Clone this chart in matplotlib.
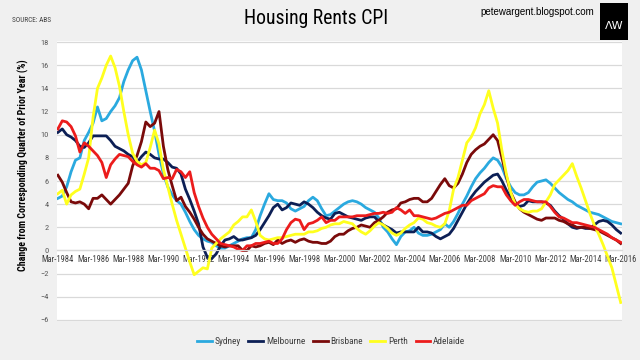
import numpy as np
import matplotlib
matplotlib.use('Agg')
from matplotlib import pyplot as plt
from matplotlib import font_manager
from matplotlib.patches import Rectangle

# Quarterly values, Mar-1984 .. Mar-2016 (129 quarters).
sydney = [4.5, 4.7, 5.5, 6.8, 7.8, 8.0, 9.5, 10.2, 11.0, 12.4, 11.2, 11.4, 12.0, 12.5, 13.2, 14.6,
          15.6, 16.4, 16.7, 15.6, 13.8, 12.0, 10.3, 8.3, 6.6, 5.5, 4.8,
          4.3, 4.0, 3.3, 2.5, 1.8, 1.3, 1.0, 0.8, 0.7, 0.4, 0.2, 0.2, 0.4, 0.6, 0.8, 1.0, 1.1,
          1.1, 1.8, 3.0, 4.0, 4.9, 4.4, 4.3, 4.3,
          4.1, 3.6, 3.4, 3.6, 3.8, 4.3, 4.6, 4.3, 3.6, 3.0, 3.1, 3.4, 3.7, 4.0, 4.2, 4.3,
          4.2, 4.0, 3.7, 3.5, 3.3, 2.8, 2.0, 1.6, 1.0,
          0.5, 1.2, 1.6, 1.7, 2.0, 1.5, 1.3, 1.3, 1.4, 1.6, 1.8, 2.3, 2.0, 2.5, 3.2, 4.0,
          4.7, 5.5, 6.2, 6.7, 7.1, 7.6, 8.0, 7.8,
          7.2, 6.2, 5.5, 5.0, 4.8, 4.8, 5.0, 5.5, 5.9, 6.0, 6.1, 5.8, 5.4, 5.0, 4.7, 4.4,
          4.2, 3.9, 3.7, 3.5, 3.3, 3.2, 3.1, 2.9, 2.7, 2.5, 2.4, 2.3]
melbourne = [10.2, 10.5, 10.0, 9.8, 9.5, 9.0, 8.9, 9.3, 9.9, 9.9, 9.9, 9.9, 9.5, 9.0, 8.8, 8.6,
             8.3, 8.1, 7.6, 8.1, 8.5, 8.3, 8.0, 7.9, 7.9, 7.6, 7.2, 7.1, 6.6,
             5.3, 4.4, 3.4, 2.3, 0.3, -0.6, -0.7, -0.3, 0.4, 0.9, 1.0, 1.2, 0.9, 0.9, 1.0, 1.1,
             1.3, 1.8, 2.4, 3.0, 3.7,
             4.0, 3.5, 3.7, 4.1, 4.0, 3.9, 4.2, 4.0, 3.7, 3.3, 3.0, 2.8, 2.7, 3.2, 3.3, 3.1,
             2.9, 2.8, 2.7, 2.6, 2.8, 2.9, 2.9, 2.5, 2.2,
             2.0, 1.8, 1.5, 1.6, 1.6, 1.6, 1.6, 2.0, 1.6, 1.6, 1.5, 1.2, 1.0, 1.2, 1.4, 1.9,
             2.6, 3.3, 4.0, 4.6, 5.1, 5.5, 5.9, 6.2, 6.5,
             6.6, 6.0, 5.2, 4.5, 4.0, 3.8, 3.9, 4.3, 4.2, 4.2, 4.2, 4.1, 3.9, 3.4, 3.0, 2.7,
             2.3, 2.0, 1.9, 2.0, 1.9, 1.9, 2.2, 2.5, 2.6, 2.5, 2.2, 1.8, 1.5]
brisbane = [6.5, 5.9, 5.0, 4.2, 4.1, 4.2, 4.0, 3.6, 4.5, 4.5, 4.8, 4.4, 4.0, 4.4, 4.8, 5.3,
            5.8, 7.3, 8.2, 9.4, 11.1, 10.7, 11.0, 12.0, 9.0, 7.0, 5.6,
            4.3, 4.6, 3.8, 3.3, 2.7, 2.0, 1.4, 1.0, 0.8, 0.6, 0.4, 0.3, 0.4, 0.4, 0.4, 0.0,
            0.0, 0.4, 0.3, 0.4, 0.6, 0.7, 0.5, 0.9,
            0.6, 0.8, 0.9, 0.7, 0.9, 1.0, 0.8, 0.7, 0.7, 0.6, 0.6, 0.8, 1.2, 1.4, 1.4, 1.7,
            1.9, 2.0, 2.2, 2.1, 2.0, 2.4, 2.6, 2.9, 3.3,
            3.5, 3.6, 4.1, 4.2, 4.4, 4.5, 4.5, 4.2, 4.2, 4.5, 5.1, 5.7, 6.2, 5.6, 5.4, 5.8,
            6.6, 7.6, 8.3, 8.7, 9.0, 9.2, 9.6, 10.0, 9.5,
            8.0, 6.4, 5.0, 4.2, 3.6, 3.3, 3.1, 2.9, 2.7, 2.6, 2.8, 2.8, 2.8, 2.6, 2.5, 2.3,
            2.2, 2.0, 2.0, 2.0, 1.9, 1.8, 1.7, 1.5, 1.3, 1.1, 0.9, 0.6]
perth = [4.9, 5.2, 4.0, 4.8, 5.1, 5.3, 6.6, 8.0, 11.5, 14.0, 14.9, 16.0, 16.8, 15.8, 14.2, 12.0,
         10.0, 8.4, 7.7, 7.4, 7.6, 8.9, 10.4, 9.2, 7.0,
         5.5, 4.0, 2.6, 1.4, 0.2, -1.0, -2.1, -1.8, -1.5, -1.6, 0.2, 0.6, 1.0, 1.3, 1.6, 2.2,
         2.5, 2.9, 2.9, 3.5, 2.5, 1.3, 1.0, 0.9, 1.0, 1.1,
         1.1, 1.2, 1.3, 1.4, 1.4, 1.4, 1.6, 1.6, 1.7, 1.9, 2.0, 2.2, 2.3, 2.3, 2.5, 2.4,
         2.3, 1.9, 1.6, 1.4, 1.7, 2.1, 2.4, 2.2, 1.9,
         1.5, 1.3, 1.5, 1.9, 2.2, 2.4, 2.8, 2.7, 2.4, 2.3, 2.1, 2.0, 2.3, 3.4, 5.3, 6.3,
         7.8, 9.3, 9.8, 10.6, 11.8, 12.6, 13.8, 12.3, 11.0,
         8.6, 6.6, 5.0, 4.0, 3.6, 3.4, 3.3, 3.4, 3.4, 3.6, 4.2, 4.8, 5.7, 6.1, 6.5, 6.9,
         7.5, 6.4, 5.4, 4.3, 3.2, 2.2, 1.4, 0.5, -0.5, -1.5, -3.0, -4.5]
adelaide = [10.5, 11.2, 11.1, 10.7, 9.9, 8.5, 9.3, 9.0, 8.6, 8.2, 7.6, 6.3, 7.4, 7.9, 8.3, 8.2,
            8.1, 7.7, 7.4, 7.2, 7.5, 7.1, 7.1, 6.9, 6.2, 6.3,
            6.2, 7.0, 6.8, 6.3, 6.8, 5.0, 3.8, 2.8, 2.0, 1.4, 1.0, 0.6, 0.5, 0.4, 0.3, 0.1,
            0.0, 0.4, 0.4, 0.6, 0.6, 0.7, 0.8, 0.6,
            0.6, 1.0, 1.8, 2.4, 2.7, 2.6, 1.8, 2.3, 2.4, 2.6, 2.9, 2.4, 2.6, 2.6, 2.9, 2.9,
            2.9, 2.9, 3.0, 3.0, 3.0, 3.1, 3.2, 3.2, 3.3,
            3.2, 3.3, 3.7, 3.5, 3.2, 3.5, 3.0, 3.0, 2.9, 2.8, 2.7, 2.8, 3.0, 3.2, 3.3, 3.5,
            3.7, 3.9, 3.9, 4.3, 4.5, 4.7, 4.9, 5.4, 5.6, 5.5,
            5.5, 4.8, 4.3, 3.9, 4.2, 4.4, 4.4, 4.3, 4.2, 4.2, 4.2, 3.8, 3.3, 2.9, 2.8, 2.6,
            2.4, 2.4, 2.3, 2.2, 2.1, 2.0, 1.8, 1.6, 1.4, 1.1, 0.9, 0.7]

series_names = ['Sydney', 'Melbourne', 'Brisbane', 'Perth', 'Adelaide']
series_colors = ['#2aa9df', '#0c1f55', '#7a0a0a', '#ffff1e', '#ec1c1c']
tick_labels = ['Mar-1984', 'Mar-1986', 'Mar-1988', 'Mar-1990', 'Mar-1992', 'Mar-1994',
               'Mar-1996', 'Mar-1998', 'Mar-2000', 'Mar-2002', 'Mar-2004', 'Mar-2006',
               'Mar-2008', 'Mar-2010', 'Mar-2012', 'Mar-2014', 'Mar-2016']

# Pick a narrow font if one is installed, like the Excel original.
fonts = font_manager.fontManager.ttflist
names = {f.name for f in fonts}
stretch = 'normal'
if 'Liberation Sans Narrow' in names:
    narrow, shrink = 'Liberation Sans Narrow', 1.0
elif 'Roboto Condensed' in names:
    narrow, shrink = 'Roboto Condensed', 0.95
elif any(f.name == 'DejaVu Sans' and f.stretch == 'condensed' for f in fonts):
    narrow, shrink, stretch = 'DejaVu Sans', 0.9, 'condensed'
else:
    narrow, shrink = 'Liberation Sans', 0.85
fp = dict(family=narrow, stretch=stretch)

bg = '#f0f0f0'
fig = plt.figure(figsize=(6.4, 3.6), dpi=100, facecolor=bg)
ax = fig.add_axes([57 / 640, 39 / 360, 565 / 640, 280 / 360])
ax.set_facecolor('white')

quarters = np.arange(len(sydney))
for name, vals, col in zip(series_names, [sydney, melbourne, brisbane, perth, adelaide],
                           series_colors):
    ax.plot(quarters, vals, color=col, lw=2.0, label=name, solid_joinstyle='round')

ax.set_xlim(-0.2, 128.3)
ax.set_ylim(-6.1, 18.1)
ax.set_yticks(np.arange(-6, 19, 2))
ax.grid(axis='y', color='#d9d9d9', lw=0.9)
ax.set_axisbelow(True)
for s in ['left', 'right', 'top']:
    ax.spines[s].set_visible(False)
ax.spines['bottom'].set_position(('data', 0))
ax.spines['bottom'].set_color('#d9d9d9')
ax.spines['bottom'].set_linewidth(0.9)

ax.set_xticks(quarters[::8])
ax.set_xticklabels(tick_labels)
ax.tick_params(axis='x', length=0, pad=3, labelsize=6.5 * shrink, labelcolor='#404040')
ax.tick_params(axis='y', length=0, pad=6, labelsize=6.3 * shrink, labelcolor='#595959')
for lab in ax.get_xticklabels() + ax.get_yticklabels():
    lab.set_family(narrow)
    lab.set_stretch(stretch)

fig.text(23 / 640, 1 - 165 / 360, 'Change from Corresponding Quarter of Prior Year (%)',
         rotation=90, ha='center', va='center', fontsize=7.5 * shrink,
         fontweight='bold', **fp)

fig.text(316 / 640, 1 - 19 / 360, 'Housing Rents CPI', ha='center', va='center',
         fontsize=15 * shrink, **fp)
fig.text(12 / 640, 1 - 20 / 360, 'SOURCE: ABS', ha='left', va='center',
         fontsize=5.5 * shrink, color='#404040', **fp)
fig.text(594 / 640, 1 - 12 / 360, 'petewargent.blogspot.com', ha='right', va='center',
         fontsize=7, family='Liberation Sans')

# AW logo box
fig.add_artist(Rectangle((600 / 640, 1 - 40 / 360), 28 / 640, 37 / 360,
                         transform=fig.transFigure, facecolor='black', edgecolor='none'))
fig.text(614 / 640, 1 - 26 / 360, '\u039bW', ha='center', va='center',
         fontsize=8, color='white', family='DejaVu Sans')

fig.legend(loc='center', bbox_to_anchor=(331 / 640, 1 - 342 / 360), ncol=5,
           frameon=False, handlelength=1.6, handletextpad=0.3, columnspacing=0.8,
           prop={'family': narrow, 'stretch': stretch, 'size': 7.1 * shrink},
           labelcolor='#404040')

fig.savefig('out.png', dpi=100, facecolor=bg)
